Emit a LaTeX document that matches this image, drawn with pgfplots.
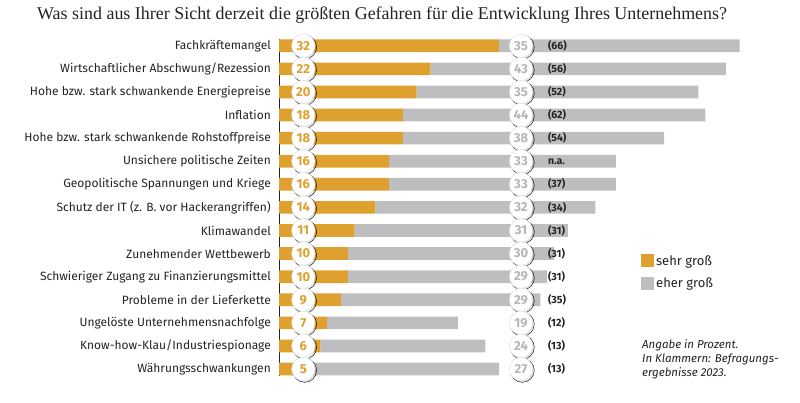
\documentclass[border=0pt]{standalone}
\usepackage{pgfplots}
\pgfplotsset{compat=1.18}
\usepackage{pgfplotstable}
\usepackage{fontspec}
\setmainfont{Fira Sans}
\newfontfamily\titlefont{Liberation Serif}
\definecolor{sehr}{RGB}{222,160,46}
\definecolor{eher}{RGB}{190,190,192}
\definecolor{numgray}{RGB}{182,182,184}
\definecolor{txt}{RGB}{35,35,35}

% eherbar = drawn length of the grey bar, eher = printed value
\pgfplotstableread{
idx sehr eher eherbar prev
0 32 35 35 (66)
1 22 43 43 (56)
2 20 35 41 (52)
3 18 44 44 (62)
4 18 38 38 (54)
5 16 33 33 n.a.
6 16 33 33 (37)
7 14 32 32 (34)
8 11 31 31 (31)
9 10 30 30 (31)
10 10 29 29 (31)
11 9 29 29 (35)
12 7 19 19 (12)
13 6 24 24 (13)
14 5 27 27 (13)
}\data

\pgfplotsset{
  common/.style={
    at={(279pt,27.5pt)}, anchor=south west,
    scale only axis, width=515.625pt, height=336.2pt,
    xmin=0, xmax=75, ymin=-0.28, ymax=14.28,
    y dir=reverse, clip=false,
  },
  sq/.style={legend image code/.code={\fill[##1,draw=none] (0pt,-6.5pt) rectangle (13pt,6.5pt);}},
}

\begin{document}
\begin{tikzpicture}
\path[use as bounding box] (0pt,0pt) rectangle (800pt,403pt);
\node[anchor=base west, font=\titlefont\fontsize{17.95}{20}\selectfont, text=txt, inner sep=0pt] at (37pt,383pt) {Was sind aus Ihrer Sicht derzeit die größten Gefahren für die Entwicklung Ihres Unternehmens?};

\begin{axis}[common,
  xbar stacked, bar width=12.7pt,
  axis x line=none, axis y line*=left,
  y axis line style={draw=txt, line width=0.8pt, -},
  ytick={0,...,14},
  yticklabels={{Fachkräftemangel},{Wirtschaftlicher Abschwung/Rezession},{Hohe bzw. stark schwankende Energiepreise},{Inflation},{Hohe bzw. stark schwankende Rohstoffpreise},{Unsichere politische Zeiten},{Geopolitische Spannungen und Kriege},{Schutz der IT (z. B. vor Hackerangriffen)},{Klimawandel},{Zunehmender Wettbewerb},{Schwieriger Zugang zu Finanzierungsmittel},{Probleme in der Lieferkette},{Ungelöste Unternehmensnachfolge},{Know-how-Klau/Industriespionage},{Währungsschwankungen}},
  major tick length=0pt,
  yticklabel style={font=\fontsize{12}{14}\selectfont, text=txt, inner sep=0pt, xshift=-8pt, anchor=east},
  legend style={at={(axis cs:52.65,8.98)}, anchor=north west, draw=none, fill=none, inner sep=0pt,
    font=\fontsize{13}{15}\selectfont, text=txt, row sep=7pt},
  legend cell align=left,
]
\addplot[fill=sehr, draw=none, sq] table[x=sehr, y=idx]{\data};
\addplot[fill=eher, draw=none, sq] table[x=eherbar, y=idx]{\data};
\legend{sehr groß, eher groß}
\end{axis}

\begin{axis}[common, hide axis]
\addplot[only marks, mark=*, mark size=12pt, mark options={fill=black, draw=none, fill opacity=0.10, xshift=1.3pt, yshift=-1.3pt}] table[x expr=3.54, y=idx]{\data};
\addplot[only marks, mark=*, mark size=12pt, mark options={fill=black, draw=none, fill opacity=0.10, xshift=1.3pt, yshift=-1.3pt}] table[x expr=35.2, y=idx]{\data};
\addplot[only marks, mark=*, mark size=11.7pt, mark options={fill=white, draw=black!12, line width=0.5pt},
  nodes near coords, point meta=explicit symbolic,
  nodes near coords style={anchor=center, font=\bfseries\fontsize{13}{13}\selectfont, text=sehr, inner sep=0pt}]
  table[x expr=3.54, y=idx, meta=sehr]{\data};
\addplot[only marks, mark=*, mark size=11.7pt, mark options={fill=white, draw=black!12, line width=0.5pt},
  nodes near coords, point meta=explicit symbolic,
  nodes near coords style={anchor=center, font=\bfseries\fontsize{13}{13}\selectfont, text=numgray, inner sep=0pt}]
  table[x expr=35.2, y=idx, meta=eher]{\data};
\addplot[only marks, mark=*, mark size=0pt, mark options={draw=none, fill=none},
  nodes near coords, point meta=explicit symbolic,
  nodes near coords style={anchor=west, font=\bfseries\fontsize{10.5}{11}\selectfont, text=txt, inner sep=0pt}]
  table[x expr=39.1, y=idx, meta=prev]{\data};
\end{axis}

\node[anchor=north west, align=left, inner sep=0pt, text=txt, font=\itshape\fontsize{11.5}{14}\selectfont] at (642pt,403pt-339pt) {Angabe in Prozent.\\In Klammern: Befragungs-\\ergebnisse 2023.};
\end{tikzpicture}
\end{document}
